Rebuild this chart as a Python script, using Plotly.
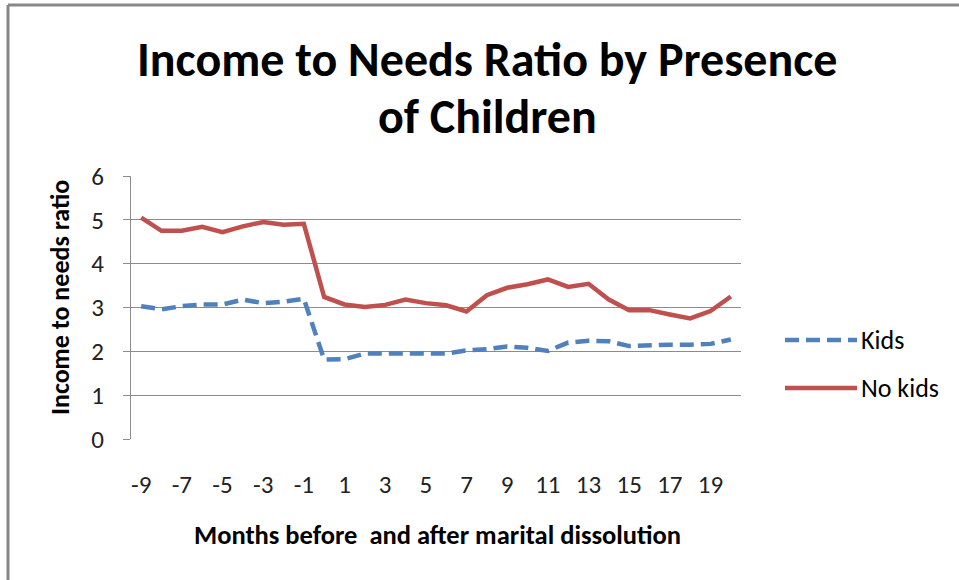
import plotly.graph_objects as go

months = list(range(-9, 21))
kids = [3.03, 2.96, 3.03, 3.07, 3.07, 3.18, 3.10, 3.13, 3.20, 1.81,
        1.82, 1.95, 1.95, 1.95, 1.93, 1.95, 2.02, 2.05, 2.11, 2.08,
        2.01, 2.20, 2.24, 2.23, 2.12, 2.14, 2.15, 2.15, 2.17, 2.27]
no_kids = [5.05, 4.75, 4.75, 4.84, 4.72, 4.85, 4.95, 4.89, 4.91, 3.24,
           3.07, 3.01, 3.06, 3.18, 3.10, 3.05, 2.91, 3.28, 3.45, 3.53,
           3.64, 3.47, 3.54, 3.18, 2.94, 2.94, 2.84, 2.75, 2.92, 3.25]
x_ticks = list(range(-9, 20, 2))
x_tick_labels = [str(v) for v in x_ticks]
y_ticks = [0, 1, 2, 3, 4, 5, 6]

series_names = ["Kids", "No kids"]
title_lines = ["Income to Needs Ratio by Presence", "of Children"]
BLUE = "#4F81BD"
RED = "#C0504D"
FONT = "Carlito, Lato, sans-serif"

W, H = 959, 580
L, R, T, B = 131, 741, 176, 439


def px_to_paper(px, py):
    return (px - L) / (R - L), (B - py) / (B - T)


fig = go.Figure()
fig.add_trace(go.Scatter(x=months, y=kids, mode="lines", name=series_names[0],
                         line=dict(color=BLUE, width=4.5, dash="14px,7px"),
                         showlegend=False))
fig.add_trace(go.Scatter(x=months, y=no_kids, mode="lines", name=series_names[1],
                         line=dict(color=RED, width=4.5),
                         showlegend=False))

shapes = []
annotations = []
# custom legend
for name, color, dash, py in [(series_names[0], BLUE, "14px,7px", 340),
                              (series_names[1], RED, "solid", 388)]:
    x0, y0 = px_to_paper(785, py)
    x1, _ = px_to_paper(857, py)
    shapes.append(dict(type="line", xref="paper", yref="paper",
                       x0=x0, x1=x1, y0=y0, y1=y0,
                       line=dict(color=color, width=4.5, dash=dash)))
    tx, _ = px_to_paper(859, py)
    annotations.append(dict(text=name, xref="paper", yref="paper", x=tx, y=y0,
                            xanchor="left", yanchor="middle", showarrow=False,
                            font=dict(family=FONT, size=26, color="#000")))

# outer border (top and left visible)
bx0, by0 = px_to_paper(8, 5)
bx1, _ = px_to_paper(959, 5)
_, by1 = px_to_paper(8, 580)
shapes.append(dict(type="line", xref="paper", yref="paper", x0=bx0, x1=bx1,
                   y0=by0, y1=by0, line=dict(color="#888888", width=3)))
shapes.append(dict(type="line", xref="paper", yref="paper", x0=bx0, x1=bx0,
                   y0=by0, y1=by1, line=dict(color="#888888", width=3)))

# title (two lines)
for line, py in zip(title_lines, [59, 116]):
    tx, ty = px_to_paper(487, py)
    annotations.append(dict(text="<b>" + line + "</b>",
                            xref="paper", yref="paper", x=tx, y=ty,
                            xanchor="center", yanchor="middle", showarrow=False,
                            font=dict(family=FONT, size=48, color="#000")))
# axis titles
ax, ay = px_to_paper(437, 535)
annotations.append(dict(text="<b>Months before  and after marital dissolution</b>",
                        xref="paper", yref="paper", x=ax, y=ay,
                        xanchor="center", yanchor="middle", showarrow=False,
                        font=dict(family=FONT, size=26.5, color="#000")))
yx, yy = px_to_paper(60, 298)
annotations.append(dict(text="<b>Income to needs ratio</b>", textangle=-90,
                        xref="paper", yref="paper", x=yx, y=yy,
                        xanchor="center", yanchor="middle", showarrow=False,
                        font=dict(family=FONT, size=26, color="#000")))

fig.update_layout(
    width=W, height=H,
    margin=dict(l=L, r=W - R, t=T, b=H - B),
    paper_bgcolor="white", plot_bgcolor="white",
    font=dict(family=FONT, size=24, color="#000"),
    shapes=shapes, annotations=annotations,
    showlegend=False,
)
fig.update_xaxes(range=[-9.5, 20.5], tickvals=x_ticks, ticktext=x_tick_labels,
                 showgrid=False, zeroline=False, showline=False, ticks="",
                 ticklabelstandoff=28, tickfont=dict(size=25, color="#222"))
fig.update_yaxes(range=[0, 6], tickvals=y_ticks, showgrid=True,
                 gridcolor="#8C8C8C", gridwidth=1, zeroline=False,
                 showline=True, linecolor="#8C8C8C", linewidth=1,
                 ticks="outside", ticklen=7, tickcolor="#8C8C8C",
                 ticklabelstandoff=14, tickfont=dict(size=25, color="#222"))

fig.write_html("out.html")
